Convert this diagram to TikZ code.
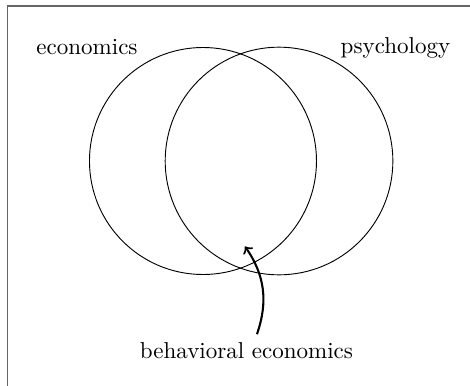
\documentclass[tikz,border=0pt]{standalone}
\usepackage{amsmath, amssymb}
\usepackage{xcolor}
\usepackage{tikz}

\begin{document}
\begin{tikzpicture}[x=1cm, y=1cm, >=to]
\useasboundingbox (0,0) rectangle (7.176,-5.893);
% --- Frame (only top and left edge inside the crop) ---
\draw[black!60, line width=0.8pt] (0.1145,-6.2) -- (0.1145,-0.0916) -- (7.4,-0.0916);

% --- The two fields ---
\coordinate (econ) at (3.099,-2.458);
\coordinate (psych) at (4.260,-2.458);
\draw[line width=0.4pt] (econ) circle (1.733);
\draw[line width=0.4pt] (psych) circle (1.738);
\node[anchor=base] (econlabel) at (1.328,-0.829) {economics};
\node[anchor=base] (psychlabel) at (6.038,-0.817) {psychology};

% --- Overlap and its label ---
\coordinate (overlap) at (3.740,-3.762);
\node[anchor=base] (behav) at (3.763,-5.470) {behavioral economics};
\draw[->, line width=0.9pt] ([xshift=0.16cm]behav.north) to[bend right=27] (overlap);
\end{tikzpicture}
\end{document}
